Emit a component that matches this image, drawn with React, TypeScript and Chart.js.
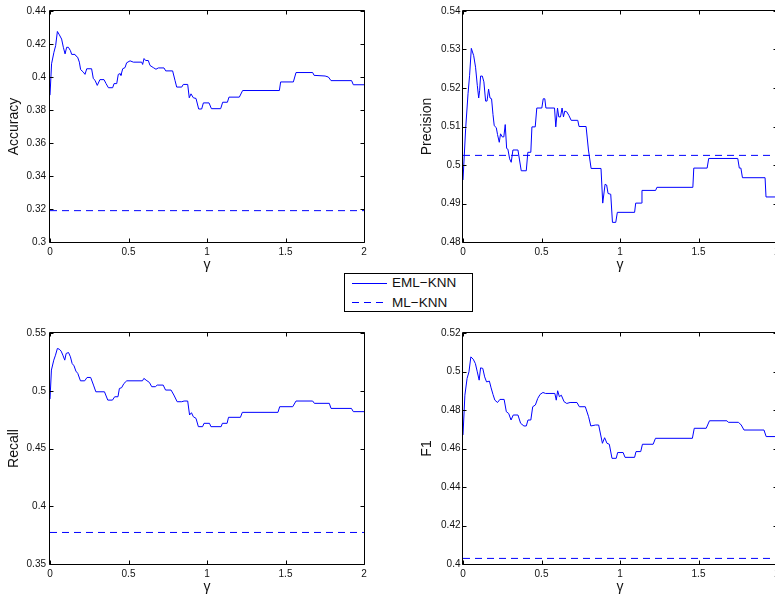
import React, { useEffect, useRef } from 'react';
import { Chart, registerables } from 'chart.js';

Chart.register(...registerables);

const FONT = "'Liberation Sans', Arial, Helvetica, sans-serif";
const BLUE = '#0000ff';
const TEXT = '#111';

// ---- shared labels / ticks ----
const seriesLabels = ['EML\u2212KNN', 'ML\u2212KNN'];
const xTitle = '\u03b3';
const gammaTicks = [0, 0.5, 1, 1.5, 2];

// ---- Accuracy ----
const gammaAcc = [
  0, 0.01, 0.025, 0.036, 0.047, 0.06, 0.074, 0.085, 0.096, 0.106,
  0.117, 0.13, 0.138, 0.159, 0.166, 0.176, 0.187, 0.195, 0.212, 0.223,
  0.234, 0.265, 0.276, 0.287, 0.301, 0.318, 0.344, 0.357, 0.372, 0.399,
  0.408, 0.425, 0.435, 0.446, 0.452, 0.463, 0.478, 0.488, 0.51, 0.531,
  0.584, 0.59, 0.599, 0.609, 0.626, 0.637, 0.658, 0.675, 0.69, 0.726,
  0.737, 0.781, 0.796, 0.807, 0.839, 0.849, 0.877, 0.887, 0.898, 0.913,
  0.93, 0.947, 0.966, 0.977, 1.013, 1.028, 1.087, 1.1, 1.13, 1.14,
  1.206, 1.227, 1.461, 1.469, 1.55, 1.567, 1.673, 1.682, 1.752, 1.773,
  1.79, 1.921, 1.932, 2.0,
];
const accuracyEML = [
  0.389, 0.408, 0.415, 0.419, 0.4276, 0.4255, 0.423, 0.418, 0.414, 0.418,
  0.418, 0.416, 0.4137, 0.4137, 0.4127, 0.412, 0.409, 0.4045, 0.403, 0.4016,
  0.405, 0.405, 0.399, 0.398, 0.3949, 0.3984, 0.3984, 0.396, 0.3935, 0.3935,
  0.396, 0.396, 0.4016, 0.402, 0.401, 0.405, 0.4057, 0.4086, 0.4098, 0.409,
  0.409, 0.4076, 0.4112, 0.41, 0.41, 0.407, 0.4057, 0.4047, 0.4055, 0.4055,
  0.4037, 0.4037, 0.398, 0.3939, 0.3939, 0.3955, 0.3955, 0.3874, 0.3898, 0.3874,
  0.387, 0.3806, 0.3806, 0.3843, 0.3843, 0.3808, 0.3808, 0.3847, 0.3847, 0.3878,
  0.3878, 0.3918, 0.3918, 0.397, 0.397, 0.4027, 0.4027, 0.401, 0.4006, 0.4,
  0.3978, 0.3978, 0.3953, 0.3953,
];
const accuracyML = 0.319;
const accTicks = [0.3, 0.32, 0.34, 0.36, 0.38, 0.4, 0.42, 0.44];

// ---- Precision ----
const gammaPrec = [
  0, 0.017, 0.032, 0.042, 0.053, 0.068, 0.08, 0.091, 0.1, 0.106,
  0.112, 0.123, 0.133, 0.144, 0.153, 0.163, 0.172, 0.182, 0.191, 0.199,
  0.212, 0.22, 0.231, 0.239, 0.25, 0.26, 0.269, 0.278, 0.286, 0.297,
  0.307, 0.318, 0.35, 0.36, 0.371, 0.403, 0.413, 0.432, 0.439, 0.46,
  0.47, 0.502, 0.511, 0.521, 0.528, 0.583, 0.591, 0.602, 0.61, 0.621,
  0.631, 0.64, 0.648, 0.661, 0.674, 0.689, 0.731, 0.739, 0.784, 0.799,
  0.816, 0.879, 0.89, 0.905, 0.915, 0.924, 0.941, 0.952, 0.973, 0.983,
  1.093, 1.1, 1.136, 1.14, 1.227, 1.235, 1.464, 1.47, 1.555, 1.565,
  1.75, 1.76, 1.77, 1.78, 1.924, 1.93, 2.0,
];
const precisionEML = [
  0.4961, 0.5095, 0.5185, 0.5233, 0.5303, 0.5284, 0.5254, 0.5207, 0.5174, 0.5194,
  0.5231, 0.5231, 0.5216, 0.5166, 0.5166, 0.5197, 0.5174, 0.5172, 0.5131, 0.5102,
  0.5097, 0.5079, 0.5059, 0.5081, 0.5073, 0.5073, 0.5105, 0.5043, 0.5041, 0.5016,
  0.5007, 0.5039, 0.5039, 0.5013, 0.4985, 0.4985, 0.5033, 0.5033, 0.5099, 0.5099,
  0.5148, 0.5148, 0.5172, 0.5172, 0.5148, 0.5148, 0.5099, 0.5148, 0.5125, 0.5125,
  0.5148, 0.5125, 0.514, 0.5138, 0.5129, 0.5116, 0.5116, 0.51, 0.51, 0.5039,
  0.4991, 0.4991, 0.4901, 0.495, 0.4948, 0.4926, 0.4924, 0.4851, 0.4851, 0.4877,
  0.4877, 0.4901, 0.4901, 0.4934, 0.4934, 0.4942, 0.4942, 0.4992, 0.4992, 0.5017,
  0.5017, 0.4992, 0.4992, 0.4967, 0.4967, 0.4917, 0.4917,
];
const precisionML = 0.5025;
const precTicks = [0.48, 0.49, 0.5, 0.51, 0.52, 0.53, 0.54];

// ---- Recall ----
const gammaRec = [
  0, 0.009, 0.024, 0.035, 0.047, 0.059, 0.071, 0.082, 0.094, 0.103,
  0.118, 0.13, 0.141, 0.153, 0.165, 0.177, 0.194, 0.221, 0.236, 0.259,
  0.277, 0.292, 0.347, 0.368, 0.398, 0.412, 0.433, 0.442, 0.456, 0.471,
  0.489, 0.589, 0.598, 0.612, 0.633, 0.648, 0.671, 0.683, 0.721, 0.736,
  0.771, 0.789, 0.81, 0.839, 0.854, 0.877, 0.889, 0.901, 0.913, 0.93,
  0.945, 0.972, 0.981, 1.016, 1.025, 1.09, 1.098, 1.128, 1.137, 1.213,
  1.225, 1.452, 1.463, 1.546, 1.567, 1.673, 1.684, 1.779, 1.79, 1.92,
  1.932, 2.0,
];
const recallEML = [
  0.4928, 0.5179, 0.5265, 0.5308, 0.5366, 0.536, 0.5343, 0.5308, 0.5265, 0.5323,
  0.5331, 0.5294, 0.5236, 0.5216, 0.517, 0.515, 0.5086, 0.5086, 0.5115, 0.5115,
  0.5049, 0.4991, 0.4991, 0.4919, 0.4919, 0.4948, 0.4948, 0.502, 0.5026, 0.5063,
  0.5086, 0.5086, 0.5107, 0.5092, 0.5072, 0.5035, 0.5035, 0.5049, 0.5049, 0.5006,
  0.5006, 0.4963, 0.4905, 0.4905, 0.4911, 0.4911, 0.479, 0.481, 0.4775, 0.4761,
  0.4689, 0.4689, 0.4718, 0.4718, 0.4689, 0.4689, 0.4718, 0.4718, 0.477, 0.477,
  0.4813, 0.4813, 0.4862, 0.4862, 0.4911, 0.4911, 0.4891, 0.4891, 0.4847, 0.4847,
  0.4819, 0.4819,
];
const recallML = 0.3773;
const recTicks = [0.35, 0.4, 0.45, 0.5, 0.55];

// ---- F1 ----
const gammaF1 = [
  0, 0.012, 0.026, 0.038, 0.05, 0.065, 0.079, 0.091, 0.103, 0.112,
  0.126, 0.138, 0.15, 0.168, 0.179, 0.191, 0.203, 0.22, 0.235, 0.262,
  0.276, 0.291, 0.306, 0.32, 0.35, 0.367, 0.388, 0.403, 0.414, 0.432,
  0.444, 0.461, 0.476, 0.491, 0.509, 0.526, 0.585, 0.594, 0.603, 0.614,
  0.626, 0.644, 0.661, 0.682, 0.726, 0.741, 0.779, 0.8, 0.814, 0.844,
  0.864, 0.888, 0.902, 0.917, 0.932, 0.949, 0.976, 0.985, 1.02, 1.032,
  1.093, 1.102, 1.132, 1.143, 1.211, 1.226, 1.461, 1.473, 1.549, 1.57,
  1.681, 1.69, 1.755, 1.772, 1.79, 1.917, 1.931, 2.0,
];
const f1EML = [
  0.467, 0.4877, 0.4964, 0.4998, 0.5076, 0.5064, 0.5041, 0.4998, 0.4955, 0.5019,
  0.5016, 0.4972, 0.4946, 0.495, 0.4915, 0.4881, 0.4851, 0.4839, 0.4855, 0.4855,
  0.4791, 0.4782, 0.4748, 0.4774, 0.4774, 0.4731, 0.4717, 0.4717, 0.4748, 0.4748,
  0.4817, 0.4826, 0.486, 0.4881, 0.4891, 0.4886, 0.4886, 0.4851, 0.49, 0.4869,
  0.4877, 0.4843, 0.4834, 0.4839, 0.4839, 0.4817, 0.4817, 0.4765, 0.4717, 0.4722,
  0.4722, 0.4627, 0.4656, 0.4627, 0.4622, 0.4549, 0.4549, 0.4579, 0.4579, 0.4554,
  0.4554, 0.4584, 0.4584, 0.4622, 0.4622, 0.4653, 0.4653, 0.4705, 0.4705, 0.4744,
  0.4744, 0.4736, 0.4736, 0.4722, 0.4696, 0.4696, 0.4662, 0.4662,
];
const f1ML = 0.4029;
const f1Ticks = [0.4, 0.42, 0.44, 0.46, 0.48, 0.5, 0.52];

// ---- layout constants ----
const AXIS_W = 50;
const PAD_TOP = 11;
const PAD_RIGHT = 16;
const AXIS_H = 48;
const PLOT_W = 314;
const PLOT_H = 231;
const CANVAS_W = AXIS_W + PLOT_W + PAD_RIGHT;
const CANVAS_H = PAD_TOP + PLOT_H + AXIS_H;

const fmt = (v: number | string) => String(+Number(v).toFixed(4));

const matlabBox = {
  id: 'matlabBox',
  afterDatasetsDraw(chart: any) {
    const { ctx, chartArea } = chart;
    const { left, right, top, bottom } = chartArea;
    const xs = chart.scales.x;
    const ys = chart.scales.y;
    const L = Math.round(left) - 0.5;
    const R = Math.round(right) + 0.5;
    const T = Math.round(top) - 0.5;
    const B = Math.round(bottom) + 0.5;
    const TL = 4;
    ctx.save();
    ctx.strokeStyle = '#000';
    ctx.lineWidth = 1;
    ctx.beginPath();
    ctx.rect(L, T, R - L, B - T);
    for (const t of xs.ticks) {
      const px = Math.round(xs.getPixelForValue(t.value)) + 0.5;
      ctx.moveTo(px, B);
      ctx.lineTo(px, B - TL);
      ctx.moveTo(px, T);
      ctx.lineTo(px, T + TL);
    }
    for (const t of ys.ticks) {
      const py = Math.round(ys.getPixelForValue(t.value)) + 0.5;
      ctx.moveTo(L, py);
      ctx.lineTo(L + TL, py);
      ctx.moveTo(R, py);
      ctx.lineTo(R - TL, py);
    }
    ctx.stroke();
    ctx.restore();
  },
};

type PanelProps = {
  yTitle: string;
  gamma: number[];
  values: number[];
  baseline: number;
  yTicks: number[];
  plotLeft: number;
  plotTop: number;
  labelPad: number;
};

function Panel({ yTitle, gamma, values, baseline, yTicks, plotLeft, plotTop, labelPad }: PanelProps) {
  const ref = useRef<HTMLCanvasElement | null>(null);
  useEffect(() => {
    if (!ref.current) return;
    const tickFont = { family: FONT, size: 10 };
    const titleFont = { family: FONT, size: 14 };
    const chart = new Chart(ref.current, {
      type: 'line',
      data: {
        datasets: [
          {
            label: seriesLabels[0],
            data: gamma.map((g, i) => ({ x: g, y: values[i] })),
            borderColor: BLUE,
            backgroundColor: BLUE,
            borderWidth: 1,
            pointRadius: 0,
            tension: 0,
            fill: false,
          },
          {
            label: seriesLabels[1],
            data: [
              { x: gammaTicks[0], y: baseline },
              { x: gammaTicks[gammaTicks.length - 1], y: baseline },
            ],
            borderColor: BLUE,
            backgroundColor: BLUE,
            borderWidth: 1,
            borderDash: [7, 5],
            pointRadius: 0,
            fill: false,
          },
        ],
      },
      options: {
        animation: false,
        responsive: false,
        devicePixelRatio: 1,
        events: [],
        layout: { padding: { top: PAD_TOP, right: PAD_RIGHT, left: 0, bottom: 0 } },
        plugins: { legend: { display: false }, tooltip: { enabled: false } },
        scales: {
          x: {
            type: 'linear',
            min: gammaTicks[0],
            max: gammaTicks[gammaTicks.length - 1],
            afterBuildTicks: (s: any) => {
              s.ticks = gammaTicks.map((v) => ({ value: v }));
            },
            grid: { display: false, drawTicks: false },
            border: { display: false },
            ticks: {
              color: TEXT,
              font: tickFont,
              padding: 4,
              maxRotation: 0,
              autoSkip: false,
              callback: (v: any) => fmt(v),
            },
            title: {
              display: true,
              text: xTitle,
              color: TEXT,
              font: titleFont,
              padding: { top: 0, bottom: 16.5 },
            },
            afterFit: (s: any) => {
              s.height = AXIS_H;
            },
          },
          y: {
            type: 'linear',
            min: yTicks[0],
            max: yTicks[yTicks.length - 1],
            afterBuildTicks: (s: any) => {
              s.ticks = yTicks.map((v) => ({ value: v }));
            },
            grid: { display: false, drawTicks: false },
            border: { display: false },
            ticks: {
              color: TEXT,
              font: tickFont,
              padding: labelPad,
              autoSkip: false,
              callback: (v: any) => fmt(v),
            },
            title: {
              display: true,
              text: yTitle,
              color: TEXT,
              font: titleFont,
              padding: { top: 5.6, bottom: 0 },
            },
            afterFit: (s: any) => {
              s.width = AXIS_W;
            },
          },
        },
      },
      plugins: [matlabBox],
    } as any);
    return () => chart.destroy();
  }, [yTitle, gamma, values, baseline, yTicks, labelPad]);

  return (
    <canvas
      ref={ref}
      width={CANVAS_W}
      height={CANVAS_H}
      style={{
        position: 'absolute',
        left: plotLeft - AXIS_W,
        top: plotTop - PAD_TOP,
        width: CANVAS_W,
        height: CANVAS_H,
      }}
    />
  );
}

function Legend() {
  return (
    <div
      style={{
        position: 'absolute',
        left: 344,
        top: 273,
        width: 127,
        height: 37,
        border: '1px solid #000',
        background: '#fff',
        fontFamily: FONT,
        fontSize: 13.5,
        color: TEXT,
      }}
    >
      <svg width={127} height={37} style={{ position: 'absolute', left: 0, top: 0 }}>
        <line x1={7} x2={42} y1={9.5} y2={9.5} stroke={BLUE} strokeWidth={1} />
        <line x1={7} x2={42} y1={28.5} y2={28.5} stroke={BLUE} strokeWidth={1} strokeDasharray="7 5" />
      </svg>
      <span style={{ position: 'absolute', left: 47, top: 1, lineHeight: '16px', whiteSpace: 'nowrap' }}>
        {seriesLabels[0]}
      </span>
      <span style={{ position: 'absolute', left: 47, top: 21, lineHeight: '16px', whiteSpace: 'nowrap' }}>
        {seriesLabels[1]}
      </span>
    </div>
  );
}

export default function App() {
  return (
    <div
      style={{
        position: 'absolute',
        left: 0,
        top: 0,
        width: 775,
        height: 594,
        overflow: 'hidden',
        background: '#fff',
      }}
    >
      <Panel yTitle="Accuracy" gamma={gammaAcc} values={accuracyEML} baseline={accuracyML} yTicks={accTicks} plotLeft={50} plotTop={11} labelPad={4} />
      <Panel yTitle="Precision" gamma={gammaPrec} values={precisionEML} baseline={precisionML} yTicks={precTicks} plotLeft={463} plotTop={11} labelPad={2.5} />
      <Panel yTitle="Recall" gamma={gammaRec} values={recallEML} baseline={recallML} yTicks={recTicks} plotLeft={50} plotTop={333} labelPad={4} />
      <Panel yTitle="F1" gamma={gammaF1} values={f1EML} baseline={f1ML} yTicks={f1Ticks} plotLeft={463} plotTop={333} labelPad={2.5} />
      <Legend />
    </div>
  );
}
